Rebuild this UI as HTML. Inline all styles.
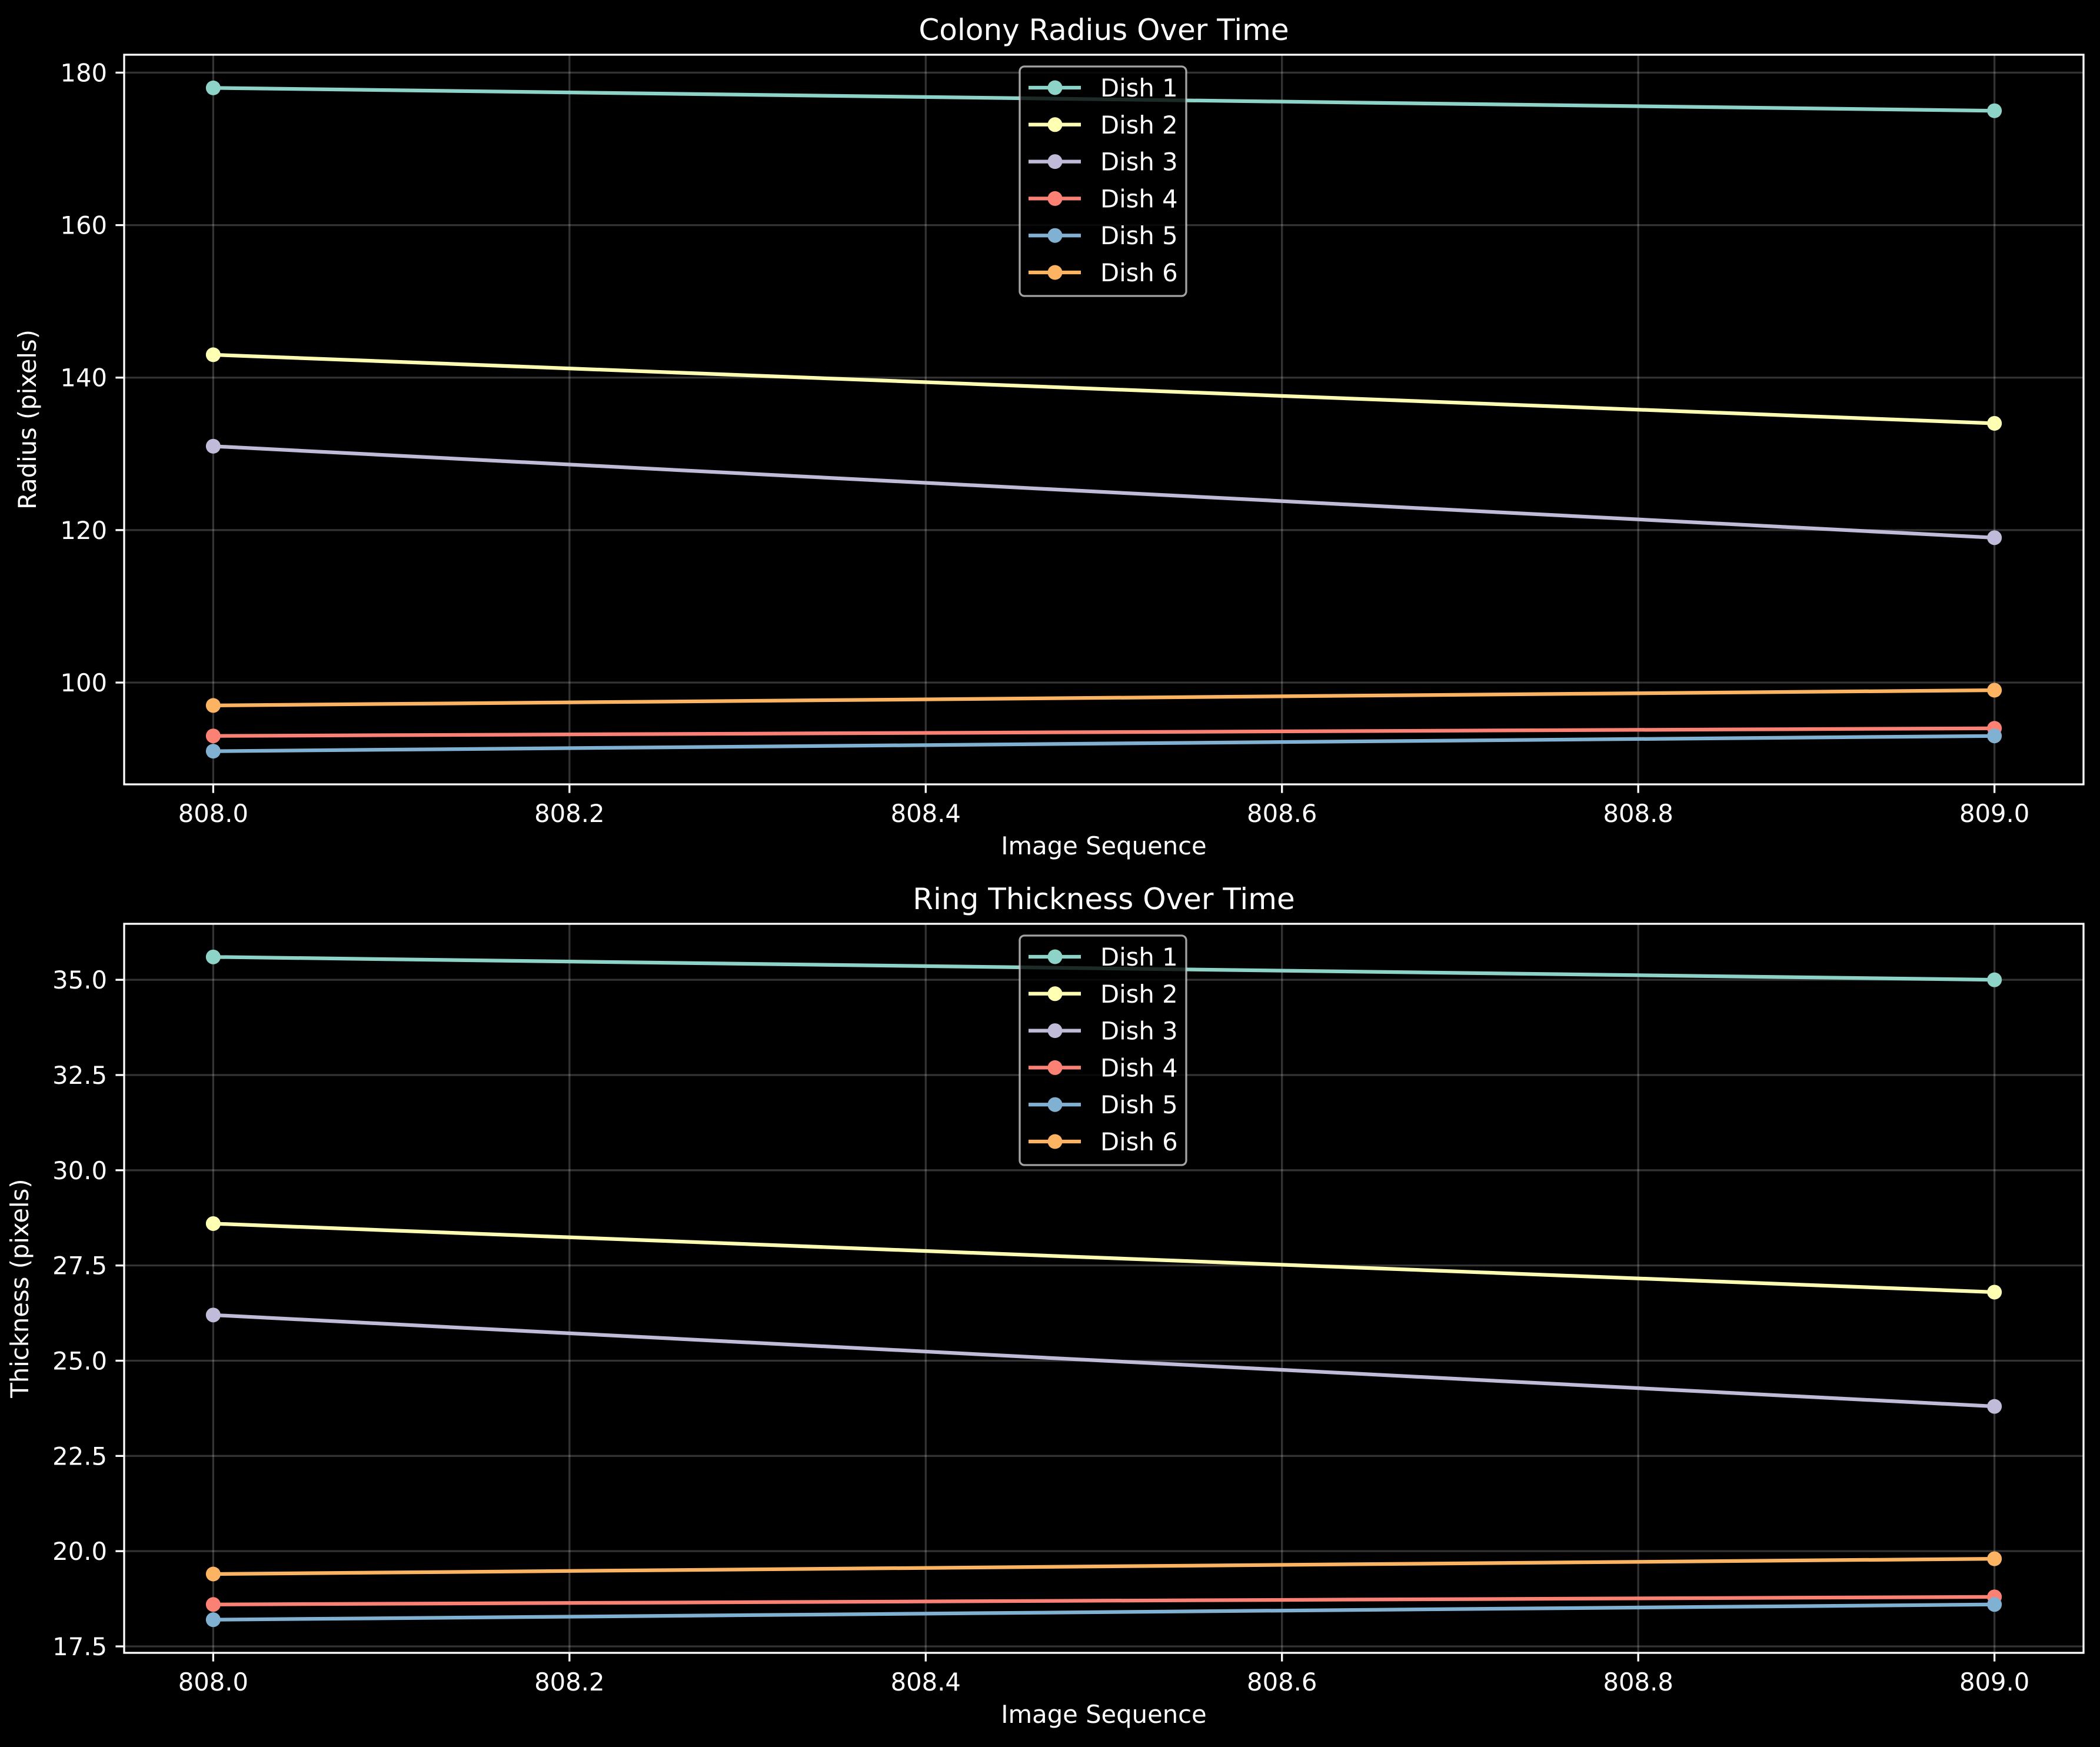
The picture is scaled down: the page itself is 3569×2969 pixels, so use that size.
<!DOCTYPE html>
<html><head><meta charset="utf-8"><style>
html,body{margin:0;padding:0;background:#000;}
svg{display:block;font-family:"DejaVu Sans","Liberation Sans",sans-serif;}
</style></head><body>
<svg id="fig" xmlns="http://www.w3.org/2000/svg" width="3569" height="2969" viewBox="0 0 3569 2969">
<rect width="3569" height="2969" fill="#000"/>
</svg>
<script>
const seqX = [808, 809];
const seriesNames = ["Dish 1","Dish 2","Dish 3","Dish 4","Dish 5","Dish 6"];
const colors = ["#8dd3c7","#feffb3","#bfbbd9","#fa8174","#81b1d2","#fdb462"];
const radiusD1 = [178, 175];
const radiusD2 = [143, 134];
const radiusD3 = [131, 119];
const radiusD4 = [93, 94];
const radiusD5 = [91, 93];
const radiusD6 = [97, 99];
const thickD1 = [35.6, 35.0];
const thickD2 = [28.6, 26.8];
const thickD3 = [26.2, 23.8];
const thickD4 = [18.6, 18.8];
const thickD5 = [18.2, 18.6];
const thickD6 = [19.4, 19.8];
const xTicks = [808.0, 808.2, 808.4, 808.6, 808.8, 809.0];
const xTickLabels = ["808.0","808.2","808.4","808.6","808.8","809.0"];
const radiusTicks = [100, 120, 140, 160, 180];
const radiusTickLabels = ["100","120","140","160","180"];
const thickTicks = [17.5, 20, 22.5, 25, 27.5, 30, 32.5, 35];
const thickTickLabels = ["17.5","20.0","22.5","25.0","27.5","30.0","32.5","35.0"];

const NS = "http://www.w3.org/2000/svg";
const svg = document.getElementById("fig");
function mk(tag, attrs, parent, text){
  const e = document.createElementNS(NS, tag);
  for (const k in attrs) e.setAttribute(k, attrs[k]);
  if (text !== undefined) e.textContent = text;
  (parent||svg).appendChild(e);
  return e;
}
const L = 211, R = 3541;
function xlim(){ const mn=Math.min(...seqX), mx=Math.max(...seqX), m=(mx-mn)*0.05; return [mn-m, mx+m]; }
function sx(v){ const [a,b]=xlim(); return L + (v-a)/(b-a)*(R-L); }

function panel(key, top, bottom, data, yTicks, yTickLabels, title, ylabel, ylabelX){
  const g = mk("g", {}, svg);
  
  
  let all=[]; data.forEach(d=>all=all.concat(d));
  const mn=Math.min(...all), mx=Math.max(...all), m=(mx-mn)*0.05;
  const y0=mn-m, y1=mx+m;
  const sy = v => bottom - (v-y0)/(y1-y0)*(bottom-top);
  xTicks.forEach((t,i)=>{
    const x=sx(t);
    const gl = mk("line",{x1:x,x2:x,y1:top,y2:bottom,stroke:"#ffffff","stroke-opacity":0.2,"stroke-width":3.3},g);
    
    
    const tk = mk("line",{x1:x,x2:x,y1:bottom,y2:bottom+14.6,stroke:"#fff","stroke-width":3.3},g);
    
    
    const tl = mk("text",{x:x,y:bottom+64,fill:"#fff","font-size":41.7,"text-anchor":"middle"},g,xTickLabels[i]);
    
    
  });
  yTicks.forEach((t,i)=>{
    const y=sy(t);
    const gl = mk("line",{x1:L,x2:R,y1:y,y2:y,stroke:"#ffffff","stroke-opacity":0.2,"stroke-width":3.3},g);
    
    
    const tk = mk("line",{x1:L-14.6,x2:L,y1:y,y2:y,stroke:"#fff","stroke-width":3.3},g);
    
    
    const tl = mk("text",{x:L-29,y:y+15,fill:"#fff","font-size":41.7,"text-anchor":"end"},g,yTickLabels[i]);
    
    
  });
  data.forEach((d,si)=>{
    const sg = mk("g",{},g);
    
    
    const pts = d.map((v,i)=>sx(seqX[i])+","+sy(v)).join(" ");
    const pl = mk("polyline",{points:pts,fill:"none",stroke:colors[si],"stroke-width":6.25,"stroke-linejoin":"round"},sg);
    
    
    d.forEach((v,i)=>{
      const c = mk("circle",{cx:sx(seqX[i]),cy:sy(v),r:12.5,fill:colors[si]},sg);
      
      
    });
  });
  const fr = mk("rect",{x:L,y:top,width:R-L,height:bottom-top,fill:"none",stroke:"#fff","stroke-width":3.3},g);
  
  
  const ti = mk("text",{x:(L+R)/2,y:top-25,fill:"#fff","font-size":50,"text-anchor":"middle"},g,title);
  
  
  const xl = mk("text",{x:(L+R)/2,y:bottom+119,fill:"#fff","font-size":41.7,"text-anchor":"middle"},g,"Image Sequence");
  
  
  const cy=(top+bottom)/2;
  const yl = mk("text",{x:ylabelX,y:cy,fill:"#fff","font-size":41.7,"text-anchor":"middle",transform:"rotate(-90 "+ylabelX+" "+cy+")"},g,ylabel);
  
  
  const lg = mk("g",{},g);
  
  
  const lt = top+20;
  mk("rect",{x:1733,y:lt,width:283,height:390,rx:8,fill:"#000","fill-opacity":0.8,stroke:"#cccccc","stroke-opacity":0.8,"stroke-width":3.3},lg);
  seriesNames.forEach((n,i)=>{
    const e = mk("g",{},lg);
    
    
    const cy2 = lt+36+i*62.8;
    mk("line",{x1:1748,x2:1837,y1:cy2,y2:cy2,stroke:colors[i],"stroke-width":6.25},e);
    mk("circle",{cx:1793,cy:cy2,r:12.5,fill:colors[i]},e);
    mk("text",{x:1870,y:cy2+15,fill:"#fff","font-size":41.7},e,n);
  });
}
panel("radius", 93, 1333, [radiusD1,radiusD2,radiusD3,radiusD4,radiusD5,radiusD6], radiusTicks, radiusTickLabels, "Colony Radius Over Time", "Radius (pixels)", 61);
panel("thickness", 1570, 2809, [thickD1,thickD2,thickD3,thickD4,thickD5,thickD6], thickTicks, thickTickLabels, "Ring Thickness Over Time", "Thickness (pixels)", 48);
</script>
</body></html>
